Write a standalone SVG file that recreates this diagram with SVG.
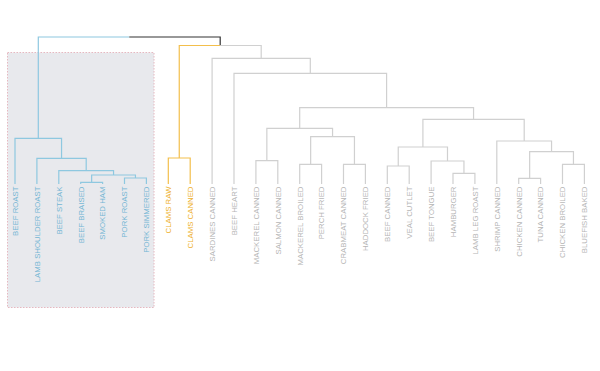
<svg xmlns="http://www.w3.org/2000/svg" width="600" height="371" viewBox="0 0 600 371">
<style>
.e{fill:none;stroke-width:1.2;stroke-linejoin:miter}
.b{stroke:#8ec8e0}
.y{stroke:#f3bf4c}
.g{stroke:#d0d0d0}
.k{stroke:#333}
text{font-family:"Liberation Sans",Arial,sans-serif;font-size:7.8px;text-anchor:end}
.tb{fill:#74b6d4}
.ty{fill:#eeb02c}
.tg{fill:#b5b5b5}
</style>
<rect id="highlight" x="7.5" y="52.5" width="146.5" height="255" fill="#e8e9ed" stroke="#e6b8c0" stroke-width="1" stroke-dasharray="1.5 1.5"/>
<g id="connectors">
<path class="e b" d="M129.25 37H38.3V138.3"/>
<path class="e k" d="M129.25 37H220.2V45.5"/>
<path class="e b" d="M38.3 138.3H15V184M38.3 138.3H61.55V158.3M61.55 158.3H36.9V184M61.55 158.3H86.2V170.7M86.2 170.7H58.8V184M86.2 170.7H113.55V175M113.55 175H91.65V182.3M113.55 175H135.45V178M91.65 182.3H80.7V184M91.65 182.3H102.6V184M135.45 178H124.5V184M135.45 178H146.4V184"/>
<path class="e y" d="M220.2 45.5H179.25V158M179.25 158H168.3V184M179.25 158H190.2V184"/>
<path class="e g" d="M220.2 45.5H261.2V58.3M261.2 58.3H212.1V184M261.2 58.3H310.3V73.3M310.3 73.3H234V184M310.3 73.3H386.6V107.7M386.6 107.7H299.7V128.3M386.6 107.7H473.55V119.3M299.7 128.3H266.85V160.7M299.7 128.3H332.55V136.7M266.85 160.7H255.9V184M266.85 160.7H277.8V184M332.55 136.7H310.65V164.3M332.55 136.7H354.45V164.3M310.65 164.3H299.7V184M310.65 164.3H321.6V184M354.45 164.3H343.5V184M354.45 164.3H365.4V184M473.55 119.3H422.9V147M473.55 119.3H524.2V141M422.9 147H398.25V166M422.9 147H447.5V161M398.25 166H387.3V184M398.25 166H409.2V184M447.5 161H431.1V184M447.5 161H463.95V173.3M463.95 173.3H453V184M463.95 173.3H474.9V184M524.2 141H496.8V184M524.2 141H551.55V151.7M551.55 151.7H529.65V178.3M551.55 151.7H573.45V164.3M529.65 178.3H518.7V184M529.65 178.3H540.6V184M573.45 164.3H562.5V184M573.45 164.3H584.4V184"/>
</g>
<g id="leaf-beef-roast"><text class="tb" transform="translate(17.8 186.5) rotate(-90)">BEEF ROAST</text></g>
<g id="leaf-lamb-shoulder-roast"><text class="tb" transform="translate(39.7 186.5) rotate(-90)">LAMB SHOULDER ROAST</text></g>
<g id="leaf-beef-steak"><text class="tb" transform="translate(61.6 186.5) rotate(-90)">BEEF STEAK</text></g>
<g id="leaf-beef-braised"><text class="tb" transform="translate(83.5 186.5) rotate(-90)">BEEF BRAISED</text></g>
<g id="leaf-smoked-ham"><text class="tb" transform="translate(105.4 186.5) rotate(-90)">SMOKED HAM</text></g>
<g id="leaf-pork-roast"><text class="tb" transform="translate(127.3 186.5) rotate(-90)">PORK ROAST</text></g>
<g id="leaf-pork-simmered"><text class="tb" transform="translate(149.2 186.5) rotate(-90)">PORK SIMMERED</text></g>
<g id="leaf-clams-raw"><text class="ty" transform="translate(171.1 186.5) rotate(-90)">CLAMS RAW</text></g>
<g id="leaf-clams-canned"><text class="ty" transform="translate(193 186.5) rotate(-90)">CLAMS CANNED</text></g>
<g id="leaf-sardines-canned"><text class="tg" transform="translate(214.9 186.5) rotate(-90)">SARDINES CANNED</text></g>
<g id="leaf-beef-heart"><text class="tg" transform="translate(236.8 186.5) rotate(-90)">BEEF HEART</text></g>
<g id="leaf-mackerel-canned"><text class="tg" transform="translate(258.7 186.5) rotate(-90)">MACKEREL CANNED</text></g>
<g id="leaf-salmon-canned"><text class="tg" transform="translate(280.6 186.5) rotate(-90)">SALMON CANNED</text></g>
<g id="leaf-mackerel-broiled"><text class="tg" transform="translate(302.5 186.5) rotate(-90)">MACKEREL BROILED</text></g>
<g id="leaf-perch-fried"><text class="tg" transform="translate(324.4 186.5) rotate(-90)">PERCH FRIED</text></g>
<g id="leaf-crabmeat-canned"><text class="tg" transform="translate(346.3 186.5) rotate(-90)">CRABMEAT CANNED</text></g>
<g id="leaf-haddock-fried"><text class="tg" transform="translate(368.2 186.5) rotate(-90)">HADDOCK FRIED</text></g>
<g id="leaf-beef-canned"><text class="tg" transform="translate(390.1 186.5) rotate(-90)">BEEF CANNED</text></g>
<g id="leaf-veal-cutlet"><text class="tg" transform="translate(412 186.5) rotate(-90)">VEAL CUTLET</text></g>
<g id="leaf-beef-tongue"><text class="tg" transform="translate(433.9 186.5) rotate(-90)">BEEF TONGUE</text></g>
<g id="leaf-hamburger"><text class="tg" transform="translate(455.8 186.5) rotate(-90)">HAMBURGER</text></g>
<g id="leaf-lamb-leg-roast"><text class="tg" transform="translate(477.7 186.5) rotate(-90)">LAMB LEG ROAST</text></g>
<g id="leaf-shrimp-canned"><text class="tg" transform="translate(499.6 186.5) rotate(-90)">SHRIMP CANNED</text></g>
<g id="leaf-chicken-canned"><text class="tg" transform="translate(521.5 186.5) rotate(-90)">CHICKEN CANNED</text></g>
<g id="leaf-tuna-canned"><text class="tg" transform="translate(543.4 186.5) rotate(-90)">TUNA CANNED</text></g>
<g id="leaf-chicken-broiled"><text class="tg" transform="translate(565.3 186.5) rotate(-90)">CHICKEN BROILED</text></g>
<g id="leaf-bluefish-baked"><text class="tg" transform="translate(587.2 186.5) rotate(-90)">BLUEFISH BAKED</text></g>
</svg>
